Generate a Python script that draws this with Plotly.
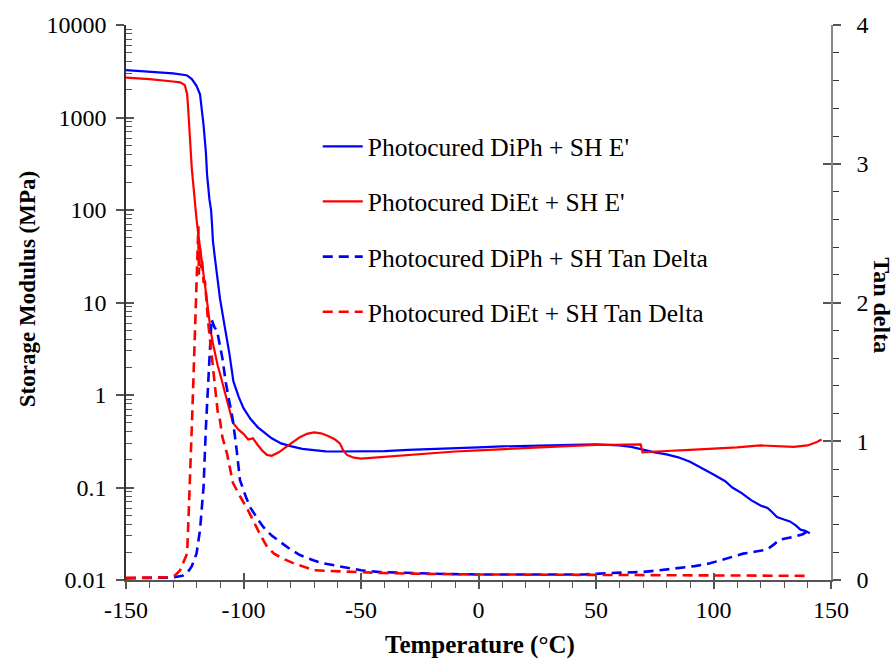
import plotly.graph_objects as go

# ---- Storage modulus E' (MPa) vs temperature (°C) ----
diph_E_T = [-150, -140, -130, -125, -124, -122, -120, -118.5, -117, -116, -115.5, -114.5,
            -113.8, -113.4, -113, -112, -111, -110, -108, -106, -104.3, -102, -100, -97,
            -94, -91.5, -88, -84, -80, -75, -70, -65, -60, -50, -40, -30, -20, -10, 0,
            10, 20, 30, 40, 50, 55, 60, 65, 70, 75, 80, 85, 90, 95, 100, 105, 108, 112,
            116, 120, 123, 125, 127, 130, 132.5, 135, 137, 139, 141]
diph_E = [3250, 3150, 3000, 2880, 2850, 2600, 2200, 1780, 830, 420, 240, 130,
          100, 70, 46, 28, 18, 11, 5.5, 2.8, 1.4, 0.95, 0.72, 0.55,
          0.45, 0.4, 0.34, 0.3, 0.28, 0.262, 0.252, 0.246, 0.245, 0.245, 0.247, 0.255,
          0.262, 0.268, 0.272, 0.278, 0.283, 0.287, 0.29, 0.292, 0.29, 0.285, 0.275,
          0.255, 0.24, 0.228, 0.212, 0.19, 0.163, 0.138, 0.117, 0.1, 0.087, 0.073, 0.064,
          0.06, 0.054, 0.048, 0.045, 0.043, 0.039, 0.035, 0.034, 0.032]

diet_E_T = [-150, -140, -130, -127, -125, -124, -123.5, -123, -122.5, -122, -121, -120.5,
            -120, -119.4, -119, -118.5, -118, -117, -116, -115, -114, -113, -112, -111,
            -110, -108, -106, -104.5, -102, -100, -98, -96, -94, -92, -90, -88, -85, -82,
            -79, -76, -73, -70, -67, -64, -61, -59, -57.5, -56, -53, -50, -45, -40, -30,
            -20, -10, 0, 10, 20, 30, 40, 50, 60, 66, 69, 69.8, 75, 80, 90, 100, 110, 120,
            128, 134, 140, 144, 146]
diet_E = [2700, 2600, 2450, 2400, 2250, 1800, 1200, 650, 420, 280, 150, 100,
          80, 59, 50, 42, 32, 20, 13, 8, 5, 3.6, 2.7, 2.1,
          1.7, 1.1, 0.72, 0.5, 0.42, 0.38, 0.33, 0.34, 0.29, 0.25, 0.225, 0.22, 0.24, 0.27,
          0.31, 0.35, 0.38, 0.395, 0.385, 0.36, 0.33, 0.3, 0.25, 0.225, 0.21, 0.205, 0.21,
          0.215, 0.225, 0.235, 0.245, 0.252, 0.26, 0.268, 0.275, 0.282, 0.288, 0.292, 0.295,
          0.292, 0.24, 0.245, 0.248, 0.255, 0.262, 0.272, 0.285, 0.278, 0.275, 0.285, 0.31,
          0.33]

# ---- Tan delta vs temperature (°C) ----
diph_tan_T = [-150, -140, -130, -126, -124, -122, -120, -118.5, -117, -116, -115, -114.3,
              -113.6, -113, -112.3, -111.3, -110, -109, -107.5, -106, -104.5, -103, -101.5,
              -99, -97, -94, -91.5, -88, -85.5, -80, -76, -70, -66, -60, -56, -50, -42, -30,
              -13, 0, 20, 35, 45, 56, 65, 70, 77, 84.5, 92, 98.5, 105, 112.6, 118, 122.8,
              126, 128, 134, 138, 141]
diph_tan = [0.012, 0.013, 0.018, 0.03, 0.05, 0.1, 0.19, 0.36, 0.67, 1.1, 1.44, 1.67,
            1.88, 1.85, 1.82, 1.8, 1.7, 1.6, 1.42, 1.27, 1.15, 0.95, 0.72,
            0.6, 0.52, 0.44, 0.38, 0.32, 0.29, 0.22, 0.18, 0.14, 0.12, 0.1, 0.086, 0.07,
            0.057, 0.05, 0.043, 0.04, 0.038, 0.036, 0.04, 0.05, 0.055, 0.058, 0.07, 0.086,
            0.1, 0.12, 0.15, 0.19, 0.205, 0.22, 0.26, 0.29, 0.31, 0.33, 0.36]

diet_tan_T = [-150, -140, -132, -129, -127, -125.5, -124, -123.5, -122.8, -122, -121.3,
              -120.6, -120, -119.5, -119.2, -119, -118.5, -118, -117.7, -117, -116.4, -115,
              -114, -113, -112, -110.9, -110, -109, -107, -105, -104.5, -102, -100.2, -98,
              -95.9, -93, -90, -87, -84, -81.5, -78, -75, -70, -65, -60, -50, -40, -30, -20,
              -10, 0, 20, 40, 60, 80, 100, 120, 140]
diet_tan = [0.015, 0.016, 0.02, 0.035, 0.07, 0.13, 0.19, 0.4, 0.67, 1.1, 1.45,
            1.8, 2.15, 2.45, 2.55, 2.2, 2.4, 2.25, 2.32, 2.15, 2.15, 1.85,
            1.68, 1.56, 1.38, 1.2, 1.15, 1.03, 0.91, 0.75, 0.7, 0.62, 0.57, 0.5,
            0.43, 0.33, 0.24, 0.19, 0.16, 0.14, 0.115, 0.1, 0.07, 0.066, 0.062, 0.057,
            0.05, 0.046, 0.043, 0.042, 0.04, 0.039, 0.038, 0.036, 0.036, 0.034, 0.033, 0.03]

# Axis tick values and labels
x_ticks = [-150, -100, -50, 0, 50, 100, 150]
x_ticktext = ["-150", "-100", "-50", "0", "50", "100", "150"]
e_ticks = [0.01, 0.1, 1, 10, 100, 1000, 10000]
e_ticktext = ["0.01", "0.1", "1", "10", "100", "1000", "10000"]
e_minor = [m * 10 ** k for k in range(-2, 4) for m in range(2, 10)]
tan_ticks = [0, 1, 2, 3, 4]

BLUE = "#0000FF"
RED = "#FF0000"
SERIF = '"Liberation Serif", "Times New Roman", Times, serif'

fig = go.Figure()
fig.add_trace(go.Scatter(x=diph_E_T, y=diph_E, mode="lines", name="Photocured DiPh + SH E'",
                         line=dict(color=BLUE, width=2.2), legendgroup="a"))
fig.add_trace(go.Scatter(x=diet_E_T, y=diet_E, mode="lines", name="Photocured DiEt + SH E'",
                         line=dict(color=RED, width=2.2), legendgroup="b"))
fig.add_trace(go.Scatter(x=diph_tan_T, y=diph_tan, mode="lines", yaxis="y2",
                         name="Photocured DiPh + SH Tan Delta",
                         line=dict(color=BLUE, width=2.6, dash="10px,6px"), legendgroup="c"))
fig.add_trace(go.Scatter(x=diet_tan_T, y=diet_tan, mode="lines", yaxis="y2",
                         name="Photocured DiEt + SH Tan Delta",
                         line=dict(color=RED, width=2.6, dash="10px,6px"), legendgroup="d"))
# empty traces that carry the inward halves of the crossing tick marks
fig.add_trace(go.Scatter(x=[], y=[], xaxis="x2", yaxis="y3", showlegend=False))
fig.add_trace(go.Scatter(x=[], y=[], xaxis="x2", yaxis="y4", showlegend=False))

tickfont = dict(family=SERIF, size=24, color="black")
AX = "#555555"

fig.update_layout(
    width=896, height=660,
    margin=dict(l=126, r=65, t=23, b=80),
    paper_bgcolor="white", plot_bgcolor="white",
    showlegend=True,
    legend=dict(x=0.272, y=0.823, xanchor="left", yanchor="top",
                font=dict(family=SERIF, size=25.5, color="black"),
                bgcolor="rgba(0,0,0,0)", tracegroupgap=19, traceorder="grouped",
                itemwidth=40),
    xaxis=dict(range=[-150, 150], tickvals=x_ticks, ticktext=x_ticktext, ticks="outside",
               ticklen=7, tickwidth=1.5, tickcolor=AX, showline=True, linecolor=AX,
               linewidth=1.5, showgrid=False, zeroline=False, tickfont=tickfont,
               ticklabelstandoff=0,
               minor=dict(dtick=10, tick0=0, ticks="outside", ticklen=6, tickcolor=AX,
                          tickwidth=1, showgrid=False)),
    xaxis2=dict(range=[-150, 150], overlaying="x", anchor="y", side="bottom",
                tickvals=x_ticks, ticks="inside", ticklen=7, tickwidth=1.5, tickcolor=AX,
                showticklabels=False, showline=False, showgrid=False, zeroline=False),
    yaxis=dict(type="log", range=[-2, 4], tickvals=e_ticks, ticktext=e_ticktext,
               ticks="outside", ticklen=8, tickwidth=1.5, tickcolor=AX, showline=True,
               linecolor="#333333", linewidth=1.5, showgrid=False, zeroline=False,
               tickfont=tickfont, ticklabelstandoff=5,
               minor=dict(tickmode="array", tickvals=e_minor, ticks="inside", ticklen=6,
                          tickcolor=AX, tickwidth=1, showgrid=False)),
    yaxis3=dict(type="log", range=[-2, 4], overlaying="y", anchor="x", side="left",
                tickvals=e_ticks, ticks="inside", ticklen=8, tickwidth=1.5, tickcolor=AX,
                showticklabels=False, showline=False, showgrid=False, zeroline=False),
    yaxis2=dict(range=[0, 4], overlaying="y", anchor="x", side="right", tickvals=tan_ticks,
                ticks="outside", ticklen=8, tickwidth=1.5, tickcolor=AX, showline=True,
                linecolor="#888888", linewidth=1.5, showgrid=False, zeroline=False,
                tickfont=tickfont, ticklabelstandoff=11,
                minor=dict(dtick=0.2, tick0=0, ticks="outside", ticklen=6, tickcolor="#333333",
                           tickwidth=1, showgrid=False)),
    yaxis4=dict(range=[0, 4], overlaying="y", anchor="x", side="right", tickvals=tan_ticks,
                ticks="inside", ticklen=8, tickwidth=1.5, tickcolor=AX,
                showticklabels=False, showline=False, showgrid=False, zeroline=False),
    annotations=[
        dict(text="<b>Storage Modulus (MPa)</b>", xref="paper", yref="paper",
             x=-0.1404, y=0.524, xanchor="center", yanchor="middle", textangle=-90,
             showarrow=False, font=dict(family=SERIF, size=23, color="black")),
        dict(text="<b>Tan delta</b>", xref="paper", yref="paper",
             x=1.0730, y=0.494, xanchor="center", yanchor="middle", textangle=90,
             showarrow=False, font=dict(family=SERIF, size=24, color="black")),
        dict(text="<b>Temperature (°C)</b>", xref="paper", yref="paper",
             x=0.502, y=-0.1167, xanchor="center", yanchor="middle",
             showarrow=False, font=dict(family=SERIF, size=25, color="black")),
    ],
)

fig.write_html("out.html")
